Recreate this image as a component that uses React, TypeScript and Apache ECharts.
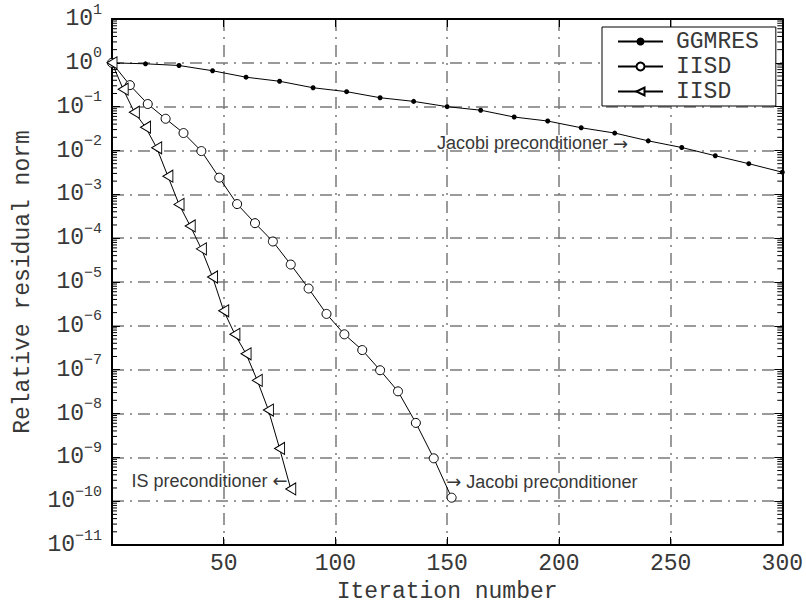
import React, { useEffect, useRef } from "react";
import * as echarts from "echarts";

const ggmresIter = [0, 15, 30, 45, 60, 75, 90, 105, 120, 135, 150, 165, 180, 195, 210, 225, 240, 255, 270, 285, 300];
const ggmresVals = [1, 0.95, 0.87, 0.66, 0.47, 0.38, 0.27, 0.22, 0.16, 0.132, 0.1, 0.083, 0.058, 0.047, 0.033, 0.025, 0.0166, 0.0117, 0.0076, 0.005, 0.0032];

const iisdJacIter = [0, 8, 16, 24, 32, 40, 48, 56, 64, 72, 80, 88, 96, 104, 112, 120, 128, 136, 144, 152];
const iisdJacVals = [1, 0.31, 0.115, 0.053, 0.025, 0.0097, 0.0024, 6.0e-4, 2.2e-4, 8.4e-5, 2.5e-5, 7.1e-6, 1.87e-6, 6.4e-7, 2.8e-7, 9.7e-8, 3.2e-8, 6.1e-9, 9.5e-10, 1.2e-10];

const iisdIsIter = [0, 5, 10, 15, 20, 25, 30, 35, 40, 45, 50, 55, 60, 65, 70, 75, 80];
const iisdIsVals = [1, 0.25, 0.075, 0.034, 0.0115, 0.0026, 5.9e-4, 1.9e-4, 5.7e-5, 1.3e-5, 2.2e-6, 6.4e-7, 2.3e-7, 5.7e-8, 1.2e-8, 1.6e-9, 1.9e-10];

const xTicks = [0, 50, 100, 150, 200, 250, 300];
const yMin = 1e-11;
const yMax = 10;

const MONO = "'Liberation Mono', 'Courier New', monospace";
const SANS = "'Liberation Sans', Arial, sans-serif";
const TXT = "#383838";

const zip = (xs: number[], ys: number[]) => xs.map((x, i) => [x, ys[i]]);

function minorTickValues(): number[][] {
  const out: number[][] = [];
  for (let d = -11; d < 1; d++) {
    for (let k = 2; k <= 9; k++) out.push([0, k * Math.pow(10, d)]);
  }
  return out;
}

function supLabel(value: number) {
  const e = Math.round(Math.log10(value));
  const s = e < 0 ? "\u2212" + -e : String(e);
  return "{b|10}{s|" + s + "}";
}

const annRich = {
  t: { fontFamily: SANS, fontSize: 18, color: TXT },
  a: { fontFamily: "'DejaVu Sans', sans-serif", fontSize: 18, color: TXT },
};

function annLabel(text: string, position: string) {
  return {
    show: true,
    position,
    distance: 0,
    formatter: text,
    rich: annRich,
  };
}

export default function App() {
  const ref = useRef<HTMLDivElement>(null);
  useEffect(() => {
    if (!ref.current) return;
    const chart = echarts.init(ref.current, null, { renderer: "svg" });
    const gridColor = "#7a7a7a";
    const axisLine = { show: true, onZero: false, lineStyle: { color: "#000", width: 2 } };
    const option: any = {
      animation: false,
      backgroundColor: "#fff",
      grid: { left: 112, right: 22, top: 19, bottom: 56 },
      legend: {
        orient: "vertical",
        left: 602,
        top: 27,
        data: ["GGMRES", "IISD-Jacobi", "IISD-IS"],
        formatter: (n: string) => (n.indexOf("IISD") === 0 ? "IISD" : n),
        itemWidth: 45,
        itemHeight: 10,
        itemGap: 2,
        padding: [3, 17, 3, 15],
        borderColor: "#000",
        borderWidth: 1,
        backgroundColor: "#fff",
        borderRadius: 0,
        textStyle: { fontFamily: MONO, fontSize: 23, color: TXT, lineHeight: 21, padding: [0, 0, 0, 8] },
      },
      xAxis: [
        {
          type: "value",
          min: xTicks[0],
          max: xTicks[xTicks.length - 1],
          interval: 50,
          position: "bottom",
          axisLine,
          axisTick: { show: true, inside: true, length: 8, lineStyle: { color: "#000", width: 1 } },
          axisLabel: {
            formatter: (v: number) => (v === 0 ? "" : String(v)),
            fontFamily: MONO,
            fontSize: 23,
            color: TXT,
            margin: 7,
          },
          splitLine: { show: true, lineStyle: { type: [12, 6, 2, 6], color: gridColor, width: 1.5 } },
          name: "Iteration number",
          nameLocation: "middle",
          nameGap: 35,
          nameTextStyle: { fontFamily: MONO, fontSize: 23, color: TXT },
        },
        {
          type: "value",
          min: xTicks[0],
          max: xTicks[xTicks.length - 1],
          interval: 50,
          position: "top",
          axisLine,
          axisTick: { show: true, inside: true, length: 8, lineStyle: { color: "#000", width: 1 } },
          axisLabel: { show: false },
          splitLine: { show: false },
        },
      ],
      yAxis: [
        {
          type: "log",
          logBase: 10,
          min: yMin,
          max: yMax,
          interval: 1,
          position: "left",
          axisLine,
          axisTick: { show: true, inside: true, length: 8, lineStyle: { color: "#000", width: 1 } },
          axisLabel: {
            formatter: supLabel,
            margin: 10,
            rich: {
              b: { fontFamily: MONO, fontSize: 23, color: TXT },
              s: { fontFamily: MONO, fontSize: 15, color: TXT, padding: [0, 0, 18, 0] },
            },
          },
          splitLine: { show: true, lineStyle: { type: [12, 6, 2, 6], color: gridColor, width: 1.5 } },
          name: "Relative residual norm",
          nameLocation: "middle",
          nameGap: 78,
          nameTextStyle: { fontFamily: MONO, fontSize: 23, color: TXT },
        },
        {
          type: "log",
          logBase: 10,
          min: yMin,
          max: yMax,
          interval: 1,
          position: "right",
          axisLine,
          axisTick: { show: true, inside: true, length: 8, lineStyle: { color: "#000", width: 1 } },
          axisLabel: { show: false },
          splitLine: { show: false },
        },
      ],
      series: [
        {
          type: "custom",
          name: "minor",
          silent: true,
          xAxisIndex: 0,
          yAxisIndex: 0,
          z: 5,
          data: minorTickValues(),
          renderItem: (params: any, api: any) => {
            const p = api.coord([0, api.value(1)]);
            const cs = params.coordSys;
            const st = { stroke: "#000", lineWidth: 1 };
            return {
              type: "group",
              children: [
                { type: "line", shape: { x1: cs.x, y1: p[1], x2: cs.x + 5, y2: p[1] }, style: st },
                { type: "line", shape: { x1: cs.x + cs.width, y1: p[1], x2: cs.x + cs.width - 5, y2: p[1] }, style: st },
              ],
            };
          },
        },
        {
          type: "line",
          name: "GGMRES",
          data: zip(ggmresIter, ggmresVals),
          symbol: "circle",
          symbolSize: 5,
          lineStyle: { color: "#000", width: 1 },
          itemStyle: { color: "#000", borderColor: "#000", borderWidth: 0 },
          z: 10,
          markPoint: {
            symbol: "circle",
            symbolSize: 0,
            data: [{ coord: [231, 0.0145], label: annLabel("{t|Jacobi preconditioner }{a|\u2192}", "left") }],
          },
        },
        {
          type: "line",
          name: "IISD-Jacobi",
          data: zip(iisdJacIter, iisdJacVals),
          symbol: "circle",
          symbolSize: 9,
          lineStyle: { color: "#000", width: 1 },
          itemStyle: { color: "#fff", borderColor: "#000", borderWidth: 1 },
          z: 10,
          markPoint: {
            symbol: "circle",
            symbolSize: 0,
            data: [{ coord: [149.6, 2.75e-10], label: annLabel("{a|\u2192}{t| Jacobi preconditioner}", "right") }],
          },
        },
        {
          type: "line",
          name: "IISD-IS",
          data: zip(iisdIsIter, iisdIsVals),
          symbol: "triangle",
          symbolRotate: 90,
          symbolSize: [12, 10],
          lineStyle: { color: "#000", width: 1 },
          itemStyle: { color: "#fff", borderColor: "#000", borderWidth: 1 },
          z: 10,
          markPoint: {
            symbol: "circle",
            symbolSize: 0,
            data: [{ coord: [78.6, 2.9e-10], label: annLabel("{t|IS preconditioner }{a|\u2190}", "left") }],
          },
        },
      ],
    };
    chart.setOption(option);
    return () => chart.dispose();
  }, []);
  return (
    <div
      ref={ref}
      style={{ position: "fixed", left: 0, top: 0, width: 806, height: 608, background: "#fff" }}
    />
  );
}
